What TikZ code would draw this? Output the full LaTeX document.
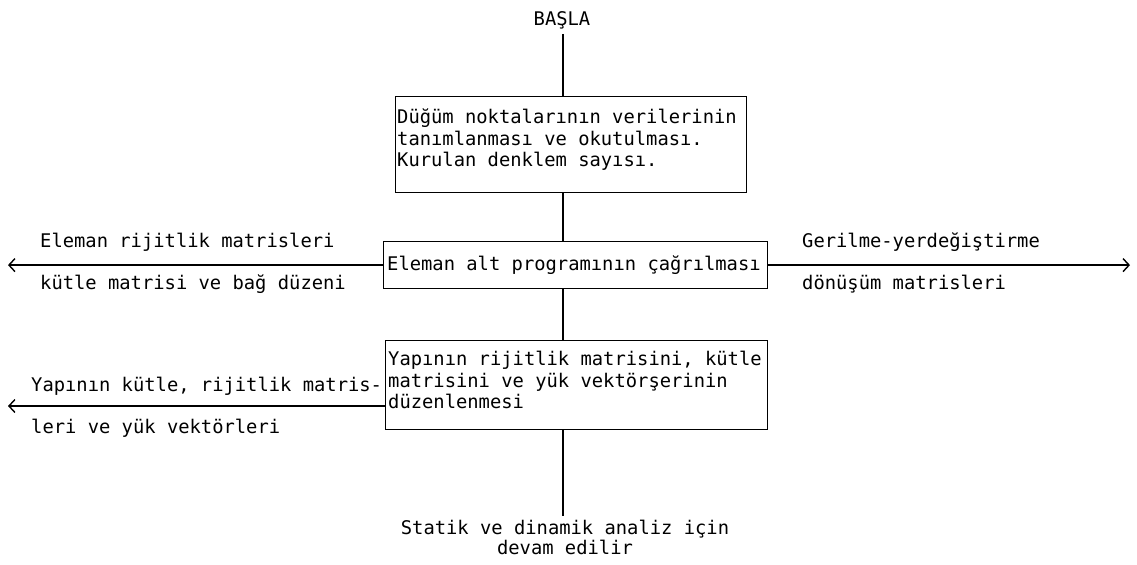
\documentclass[tikz,border=0pt]{standalone}
\usepackage{fontspec}
\setmonofont{DejaVu Sans Mono}
\usetikzlibrary{arrows.meta}
\tikzset{
  mono/.style={font=\ttfamily\fontsize{18.8bp}{21.5bp}\selectfont, inner sep=0pt},
  frame/.style={draw, line width=1.2bp, inner sep=0pt, anchor=north west},
  txt/.style={mono, align=left, anchor=north west},
  lab/.style={mono, anchor=base west},
  link/.style={line width=1.2bp},
  arr/.style={link, -{Straight Barb[length=6bp,width=13bp,line width=1.4bp]}}
}
\begin{document}
\begin{tikzpicture}[x=1bp,y=-1bp]
\useasboundingbox (0,0) rectangle (1137,565);
\coordinate (sp) at (563,0);
\node[mono, anchor=base] (start) at (562,26) {BAŞLA};
% boxes
\node[frame, minimum width=351bp, minimum height=96bp] (b1) at (395,96) {};
\node[txt] (t1) at ([shift={(2,13)}]b1.north west) {Düğüm noktalarının verilerinin\\tanımlanması ve okutulması.\\Kurulan denklem sayısı.};
\node[frame, minimum width=384bp, minimum height=47bp] (b2) at (383,241) {};
\node[txt] (t2) at ([shift={(4,15)}]b2.north west) {Eleman alt programının çağrılması};
\node[frame, minimum width=382bp, minimum height=89bp] (b3) at (385,340) {};
\node[txt] (t3) at ([shift={(3,11)}]b3.north west) {Yapının rijitlik matrisini, kütle\\matrisini ve yük vektörşerinin\\düzenlenmesi};
\node[mono, align=center, anchor=north, font=\ttfamily\fontsize{18.8bp}{20bp}\selectfont] (end) at (565,520) {Statik ve dinamik analiz için\\devam edilir};
% vertical spine
\draw[link, shorten <=4bp] (start.south -| sp) -- (b1.north -| sp);
\draw[link] (b1.south -| sp) -- (b2.north -| sp);
\draw[link] (b2.south -| sp) -- (b3.north -| sp);
\draw[link, shorten >=4bp] (b3.south -| sp) -- (end.north -| sp);
% side arrows
\coordinate (l1) at (8,264);
\coordinate (r1) at (1130,264);
\coordinate (l2) at (8,406);
\draw[arr] (b2.west) -- (b2.west -| l1);
\draw[arr] (b2.east) -- (b2.east -| r1);
\draw[arr] (b3.west |- l2) -- (l2);
% labels
\node[lab] (la1) at (40,248) {Eleman rijitlik matrisleri};
\node[lab] (la2) at (40,290) {kütle matrisi ve bağ düzeni};
\node[lab] (ra1) at (802,248) {Gerilme-yerdeğiştirme};
\node[lab] (ra2) at (802,290) {dönüşüm matrisleri};
\node[lab] (lb1) at (31,391) {Yapının kütle, rijitlik matris-};
\node[lab] (lb2) at (31,433) {leri ve yük vektörleri};
\end{tikzpicture}
\end{document}
